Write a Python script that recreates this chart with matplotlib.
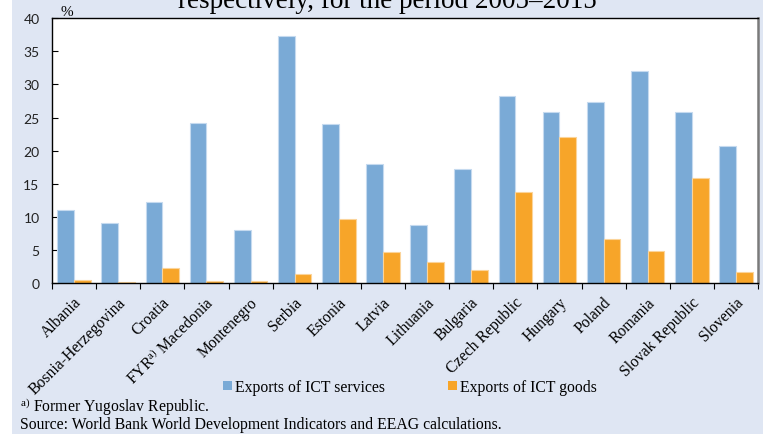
import matplotlib
matplotlib.use("Agg")
import matplotlib.pyplot as plt
import matplotlib.transforms as mtransforms
from matplotlib.patches import Rectangle, Patch
import numpy as np

countries = ["Albania", "Bosnia-Herzegovina", "Croatia", r"FYR$^{\mathregular{a)}}$ Macedonia",
             "Montenegro", "Serbia", "Estonia", "Latvia", "Lithuania", "Bulgaria",
             "Czech Republic", "Hungary", "Poland", "Romania", "Slovak Republic", "Slovenia"]
ict_services = [11.0, 9.1, 12.2, 24.2, 8.0, 37.4, 24.0, 18.0, 8.8, 17.3,
                28.3, 25.9, 27.3, 32.0, 25.8, 20.7]
ict_goods = [0.5, 0.2, 2.2, 0.3, 0.3, 1.4, 9.7, 4.7, 3.1, 2.0,
             13.7, 22.1, 6.7, 4.8, 15.9, 1.7]
yticks = [0, 5, 10, 15, 20, 25, 30, 35, 40]

serif = "Liberation Serif"
sans = "Lato"
plt.rcParams["mathtext.fontset"] = "custom"
plt.rcParams["mathtext.rm"] = serif
plt.rcParams["mathtext.it"] = serif + ":italic"

BG = "#dfe6f3"
BLUE = "#7aaad6"
ORANGE = "#f7a529"

W, H = 763, 435
fig = plt.figure(figsize=(W / 100, H / 100), dpi=100, facecolor="white")
fig.patches.append(Rectangle((12 / W, 0), 1 - 12 / W, 1, transform=fig.transFigure,
                             facecolor=BG, edgecolor="none", zorder=-10))

ax = fig.add_axes([52 / W, 1 - 284 / H, (758 - 52) / W, (284 - 19.3) / H])
ax.set_facecolor("white")

x = np.arange(len(countries))
bw = 0.38
ax.bar(x - bw / 2, ict_services, width=bw, color=BLUE, edgecolor="#c5daef", linewidth=0.8, zorder=2)
ax.bar(x + bw / 2, ict_goods, width=bw, color=ORANGE, edgecolor="#fbd49a", linewidth=0.8, zorder=2)

ax.set_xlim(-0.5, len(countries) - 0.5)
ax.set_ylim(0, 40)
ax.set_yticks(yticks)
ax.set_yticklabels([str(v) for v in yticks], fontfamily=sans, fontsize=10, color="#222222")
ax.tick_params(axis="y", direction="in", length=4, width=0.8, pad=9)

ax.set_xticks(x)
ax.set_xticklabels(countries, rotation=45, ha="right", va="center", rotation_mode="anchor",
                   fontfamily=serif, fontsize=11.3)
ax.tick_params(axis="x", which="major", length=0, pad=12)
ax.set_xticks(np.arange(-0.5, len(countries) + 0.5, 1), minor=True)
ax.tick_params(axis="x", which="minor", direction="out", length=4, width=0.8)
offset = mtransforms.ScaledTranslation(5 / 100, 0, fig.dpi_scale_trans)
for lab in ax.get_xticklabels():
    lab.set_transform(lab.get_transform() + offset)

for side in ["left", "bottom", "top"]:
    ax.spines[side].set_color("black")
    ax.spines[side].set_linewidth(1.0)
ax.spines["right"].set_color("#7a7a7a")
ax.spines["right"].set_linewidth(1.8)

fig.text(67 / W, 1 - 12 / H, "%", fontfamily=serif, fontsize=11, ha="center", va="center")
fig.text(387 / W, 1 - 8 / H, "respectively, for the period 2005\u20132015", fontfamily=serif,
         fontsize=19.5, ha="center", va="baseline")

handles = [Patch(facecolor=BLUE, edgecolor="none"), Patch(facecolor=ORANGE, edgecolor="none")]
fig.legend(handles, ["Exports of ICT services", "Exports of ICT goods"], ncol=2,
           loc="center", bbox_to_anchor=(410 / W, 1 - 388 / H), frameon=False,
           prop={"family": serif, "size": 11.3}, handlelength=0.55, handleheight=0.55,
           handletextpad=0.2, columnspacing=4.0, borderpad=0)

fig.text(20 / W, 1 - 407 / H, r"$^{\mathregular{a)}}$ Former Yugoslav Republic.", fontfamily=serif,
         fontsize=11.3, ha="left", va="center")
fig.text(20 / W, 1 - 425 / H, "Source: World Bank World Development Indicators and EEAG calculations.",
         fontfamily=serif, fontsize=11.3, ha="left", va="center")

fig.savefig("out.png", dpi=100, facecolor=fig.get_facecolor())
